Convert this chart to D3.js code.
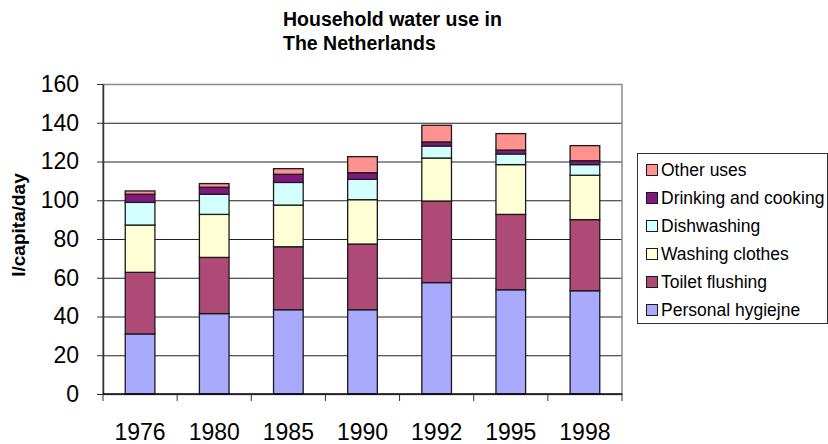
<!DOCTYPE html>
<html>
<head>
<meta charset="utf-8">
<script src="https://cdn.jsdelivr.net/npm/d3@7"></script>
<style>
    body { margin: 0; background: white; }
    svg { display: block; font-family: 'Liberation Sans', Arial, sans-serif; }
</style>
</head>
<body>
<div id="chart-container"></div>
<script>
// Chart data (l/capita/day)
const years = ['1976', '1980', '1985', '1990', '1992', '1995', '1998']
const seriesNames = ['Personal hygiejne', 'Toilet flushing', 'Washing clothes', 'Dishwashing', 'Drinking and cooking', 'Other uses']
const personalHygiene = [31.0, 41.5, 43.5, 43.5, 57.5, 53.8, 53.3]
const toiletFlushing = [31.8, 29.0, 32.5, 33.9, 42.1, 38.9, 36.7]
const washingClothes = [24.4, 22.2, 21.5, 22.9, 22.2, 25.7, 22.9]
const dishwashing = [11.7, 10.4, 11.7, 10.5, 6.2, 5.5, 5.5]
const drinkingCooking = [4.2, 3.6, 4.2, 3.4, 2.1, 2.0, 2.0]
const otherUses = [1.7, 1.9, 2.9, 8.3, 8.6, 8.5, 7.8]
const yTicks = [0, 20, 40, 60, 80, 100, 120, 140, 160]

class StackedBarPlotter {
    constructor(options) {
        this.width = options.width
        this.height = options.height
        this.plot = { left: 103, right: 622, top: 84, bottom: 394 }

        this.colors = ['#a9a9fd', '#ad4a76', '#ffffd6', '#d3ffff', '#80187f', '#ff928e']
        this.axisFontSize = '23px'
        this.legendFontSize = '17.5px'
        this.titleFontSize = '19.5px'

        // one row per year, one column per series
        const columns = [personalHygiene, toiletFlushing, washingClothes, dishwashing, drinkingCooking, otherUses]
        this.rows = years.map((year, i) => {
            const row = { year: year }
            seriesNames.forEach((name, j) => { row[name] = columns[j][i] })
            return row
        })

        this.xScale = d3.scaleBand()
            .domain(years)
            .range([this.plot.left, this.plot.right])
            .paddingInner(0.6)
            .paddingOuter(0.3)
        this.yScale = d3.scaleLinear()
            .domain([0, 160])
            .range([this.plot.bottom, this.plot.top])

        this.svg = d3.select('#chart-container')
            .append('svg')
            .attr('width', this.width)
            .attr('height', this.height)
    }

    draw() {
        this.#drawTitle()
        this.#drawGrid()
        this.#drawBars()
        this.#drawAxes()
        this.#drawLegend()
    }

    #drawTitle() {
        const title = this.svg.append('text')
            .attr('x', 283)
            .attr('font-size', this.titleFontSize)
            .attr('font-weight', 'bold')
        title.append('tspan').attr('x', 283).attr('y', 26).text('Household water use in')
        title.append('tspan').attr('x', 283).attr('y', 50).text('The Netherlands')
    }

    #drawGrid() {
        this.svg.append('g')
            .selectAll('line')
            .data(yTicks.slice(1, -1))
            .enter()
            .append('line')
            .attr('x1', this.plot.left)
            .attr('x2', this.plot.right)
            .attr('y1', d => this.yScale(d) + 0.5)
            .attr('y2', d => this.yScale(d) + 0.5)
            .attr('stroke', '#222')

        // plot area border (top and right are grey)
        this.svg.append('rect')
            .attr('x', this.plot.left)
            .attr('y', this.plot.top + 0.5)
            .attr('width', this.plot.right - this.plot.left)
            .attr('height', this.plot.bottom - this.plot.top)
            .attr('fill', 'none')
            .attr('stroke', '#8a8a8a')
            .attr('stroke-width', 1.5)
    }

    #drawBars() {
        const stacked = d3.stack().keys(seriesNames)(this.rows)
        this.svg.append('g')
            .selectAll('g')
            .data(stacked)
            .enter()
            .append('g')
            .attr('fill', (d, i) => this.colors[i])
            .selectAll('rect')
            .data(d => d)
            .enter()
            .append('rect')
            .attr('x', d => this.xScale(d.data.year))
            .attr('y', d => this.yScale(d[1]))
            .attr('width', this.xScale.bandwidth())
            .attr('height', d => this.yScale(d[0]) - this.yScale(d[1]))
            .attr('stroke', '#1a1a1a')
            .attr('stroke-width', 1.3)
    }

    #drawAxes() {
        const yAxis = d3.axisLeft(this.yScale)
            .tickValues(yTicks)
            .tickSize(6)
            .tickPadding(18)
            .tickSizeOuter(0)
        const yG = this.svg.append('g')
            .attr('transform', 'translate(' + this.plot.left + ', 0)')
            .call(yAxis)
            .attr('font-family', null)
            .attr('font-size', null)
        yG.select('.domain').attr('stroke', '#333').attr('stroke-width', 1.5)
        yG.selectAll('.tick line').attr('stroke', '#333')
        yG.selectAll('text').attr('font-size', this.axisFontSize).attr('fill', '#000')

        // ticks on the x axis sit between categories
        const step = this.xScale.step()
        const boundaries = d3.range(years.length + 1).map(i => this.plot.left + i * step)
        const xG = this.svg.append('g')
        xG.append('line')
            .attr('x1', this.plot.left)
            .attr('x2', this.plot.right)
            .attr('y1', this.plot.bottom)
            .attr('y2', this.plot.bottom)
            .attr('stroke', '#000')
            .attr('stroke-width', 1.5)
        xG.selectAll('.xtick')
            .data(boundaries)
            .enter()
            .append('line')
            .attr('x1', d => d)
            .attr('x2', d => d)
            .attr('y1', this.plot.bottom)
            .attr('y2', this.plot.bottom + 7)
            .attr('stroke', '#333')
        xG.selectAll('text')
            .data(years)
            .enter()
            .append('text')
            .attr('x', d => this.xScale(d) + this.xScale.bandwidth() / 2)
            .attr('y', 440)
            .attr('text-anchor', 'middle')
            .attr('font-size', this.axisFontSize)
            .text(d => d)

        this.svg.append('text')
            .attr('transform', 'translate(25, 225) rotate(-90)')
            .attr('text-anchor', 'middle')
            .attr('font-size', '19px')
            .attr('font-weight', 'bold')
            .text('l/capita/day')
    }

    #drawLegend() {
        const legend = this.svg.append('g')
        legend.append('rect')
            .attr('x', 637.5)
            .attr('y', 153.5)
            .attr('width', 190)
            .attr('height', 170)
            .attr('fill', 'white')
            .attr('stroke', '#333')

        // legend lists the series top-down in reverse stacking order
        const items = legend.selectAll('.legend-item')
            .data(seriesNames.slice().reverse())
            .enter()
            .append('g')
            .attr('class', 'legend-item')
            .attr('transform', (d, i) => 'translate(646, ' + (170 + i * 28) + ')')

        items.append('rect')
            .attr('x', 0.5)
            .attr('y', -5.5)
            .attr('width', 11)
            .attr('height', 11)
            .attr('fill', d => this.colors[seriesNames.indexOf(d)])
            .attr('stroke', '#1a1a1a')

        items.append('text')
            .attr('x', 15)
            .attr('dy', '0.36em')
            .attr('font-size', this.legendFontSize)
            .text(d => d)
    }
}

new StackedBarPlotter({ width: 828, height: 444 }).draw()
</script>
</body>
</html>
